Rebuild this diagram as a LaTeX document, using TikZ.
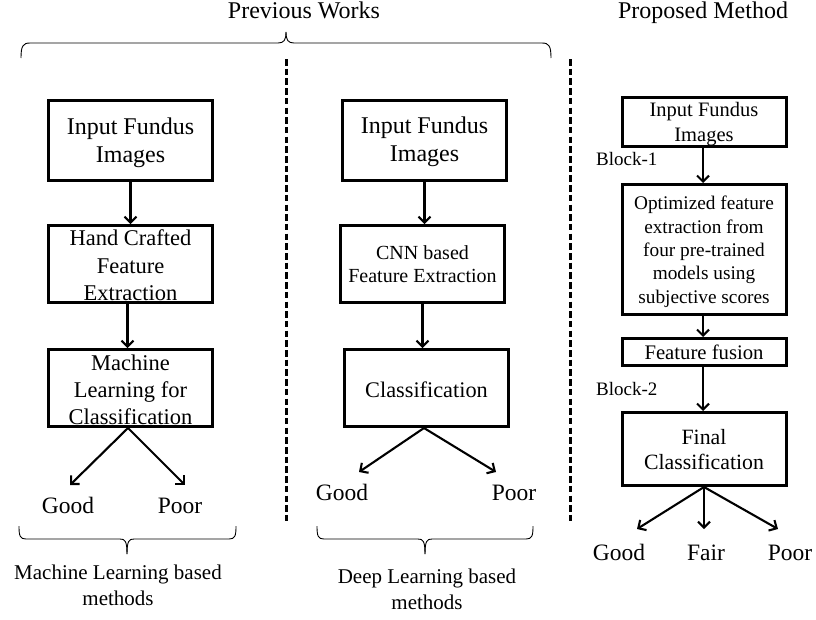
\documentclass[tikz,border=0pt]{standalone}
\usepackage{fontspec}
\setmainfont{Liberation Serif}
\usetikzlibrary{arrows.meta}
\newcommand\fsXL{\fontsize{24}{28}\selectfont}
\newcommand\fsL{\fontsize{22.5}{27.5}\selectfont}
\newcommand\fsLb{\fontsize{22.5}{27}\selectfont}
\newcommand\fsLc{\fontsize{22.3}{27}\selectfont}
\newcommand\fsS{\fontsize{20}{23}\selectfont}
\newcommand\fsM{\fontsize{21}{26}\selectfont}
\newcommand\fsRa{\fontsize{20.5}{25}\selectfont}
\newcommand\fsRb{\fontsize{19.3}{23.4}\selectfont}
\newcommand\fsRc{\fontsize{20.7}{24}\selectfont}
\newcommand\fsRd{\fontsize{21.8}{25}\selectfont}
\newcommand\fsBlk{\fontsize{19}{22}\selectfont}
\newcommand\fsOut{\fontsize{23.5}{28}\selectfont}
\newcommand\tb[1]{\begin{tabular}{@{}c@{}}#1\end{tabular}}
\begin{document}
\begin{tikzpicture}[x=1pt,y=-1pt,
  box/.style={draw, line width=3pt, inner sep=0pt, minimum width=164pt, text depth=0pt},
  arr/.style={line width=2.1pt, -{Straight Barb[length=6pt,width=12pt]}},
  sepline/.style={line width=3pt, dash pattern=on 6.5pt off 3.2pt},
  bracep/.style={line width=0.9pt},
  outlbl/.style={inner xsep=0pt, anchor=north, font=\fsOut, text height=16.4pt, text depth=0pt},
  plain/.style={inner sep=0pt, anchor=base},
  caption/.style={inner sep=0pt, anchor=north, align=center, font=\fsM}]

\useasboundingbox (0,0) rectangle (816,619);

% titles
\node[plain, font=\fsXL] (tprev) at (304,18) {Previous Works};
\node[plain, font=\fsXL] (tprop) at (703,18) {Proposed Method};

% top brace
\draw[bracep] (21,58) .. controls (21,46) and (23,43) .. (30,43) -- (278,43) .. controls (284,43) and (286,40) .. (286,32);
\draw[bracep] (286,32) .. controls (286,40) and (288,43) .. (294,43) -- (542,43) .. controls (549,43) and (551,46) .. (551,58);

% separators
\draw[sepline] (286,59) -- (286,522);
\draw[sepline] (570,59) -- (570,522);

% left column
\node[box, minimum height=80pt, font=\fsXL, text height=18.8pt] (L1) at (130.5,140) {\tb{Input Fundus\\Images}};
\node[box, minimum height=77pt, font=\fsL, text height=17.65pt] (L2) at (130.5,264) {\tb{Hand Crafted\\Feature\\Extraction}};
\node[box, minimum height=77pt, font=\fsLb, text height=18.45pt] (L3) at (130.5,388) {\tb{Machine\\Learning for\\Classification}};
\draw[arr] (L1) -- (L2);
\draw[arr] ([xshift=-3pt]L2.south) -- ([xshift=-3pt]L3.north);
\node[outlbl, inner ysep=11.6pt] (Lgood) at (68,485) {Good};
\node[outlbl, inner ysep=11.6pt] (Lpoor) at (180,485) {Poor};
\draw[arr] ([xshift=-2.5pt]L3.south) -- ([xshift=2pt]Lgood.north);
\draw[arr] ([xshift=-2.5pt]L3.south) -- ([xshift=5pt]Lpoor.north);
\draw[bracep] (19,526) .. controls (19,536) and (20,539) .. (26,539) -- (120,539) .. controls (125,539) and (127,541) .. (127,554);
\draw[bracep] (127,554) .. controls (127,541) and (129,539) .. (134,539) -- (229,539) .. controls (235,539) and (236,536) .. (236,526);
\node[caption] (Lcap) at (118,564.7) {Machine Learning based\\methods};

% middle column
\node[box, minimum height=80pt, font=\fsXL, text height=16.8pt] (M1) at (424.5,140) {\tb{Input Fundus\\Images}};
\node[box, minimum height=77pt, font=\fsS, text height=15.8pt] (M2) at (422.5,264) {\tb{CNN based\\Feature Extraction}};
\node[box, minimum height=77pt, font=\fsLc, text height=18.35pt] (M3) at (426.5,388) {\tb{Classification}};
\draw[arr] (M1.south) -- (M1.south |- M2.north);
\draw[arr] (M2.south) -- (M2.south |- M3.north);
\node[outlbl, inner ysep=11.6pt] (Mgood) at (342,472) {Good};
\node[outlbl, inner ysep=11.6pt] (Mpoor) at (514,472) {Poor};
\draw[arr] ([xshift=-2.5pt]M3.south) -- ([xshift=17pt]Mgood.north);
\draw[arr] ([xshift=-2.5pt]M3.south) -- ([xshift=-18pt]Mpoor.north);
\draw[bracep] (317,526) .. controls (317,536) and (318,539) .. (324,539) -- (418,539) .. controls (423,539) and (425,541) .. (425,554);
\draw[bracep] (425,554) .. controls (425,541) and (427,539) .. (432,539) -- (526,539) .. controls (532,539) and (533,536) .. (533,526);
\node[caption] (Mcap) at (427,568.7) {Deep Learning based\\methods};

% right column
\node[box, minimum height=49pt, font=\fsRa, text height=15.25pt] (R1) at (704,122) {\tb{Input Fundus\\Images}};
\node[box, minimum height=130pt, font=\fsRb, text height=14.85pt] (R2) at (704,249.5) {\tb{Optimized feature\\extraction from\\four pre-trained\\models using\\subjective scores}};
\node[box, minimum height=27pt, font=\fsRc, text height=16.75pt] (R3) at (704,352) {\tb{Feature fusion}};
\node[box, minimum height=73pt, font=\fsRd, text height=15.9pt] (R4) at (704,449) {\tb{Final\\Classification}};
\draw[arr] ([xshift=-1pt]R1.south) -- ([xshift=-1pt]R2.north);
\draw[arr] ([xshift=-1pt]R2.south) -- ([xshift=-1pt]R3.north);
\draw[arr] ([xshift=-1pt]R3.south) -- ([xshift=-1pt]R4.north);
\node[plain, anchor=base west, font=\fsBlk] (blk1) at (596,165) {Block-1};
\node[plain, anchor=base west, font=\fsBlk] (blk2) at (596,395) {Block-2};
\node[outlbl, inner ysep=14.6pt] (Rgood) at (619,529) {Good};
\node[outlbl, inner ysep=14.6pt] (Rfair) at (706,529) {Fair};
\node[outlbl, inner ysep=14.6pt] (Rpoor) at (790,529) {Poor};
\draw[arr] (R4.south) -- ([xshift=18pt]Rgood.north);
\draw[arr] (R4.south) -- ([xshift=-2pt]Rfair.north);
\draw[arr] (R4.south) -- ([xshift=-12pt]Rpoor.north);
\end{tikzpicture}
\end{document}
